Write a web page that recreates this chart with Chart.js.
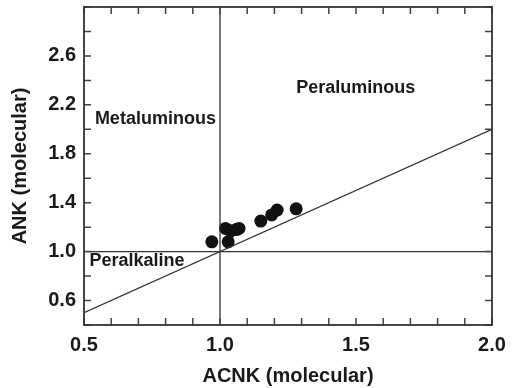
<!DOCTYPE html>
<html>
<head>
<meta charset="utf-8">
<script src="https://cdn.jsdelivr.net/npm/chart.js@4.4.1/dist/chart.umd.min.js"></script>
<style>
  html, body { margin: 0; padding: 0; background: #fff; }
  #wrap { width: 514px; height: 388px; }
</style>
</head>
<body>
<div id="wrap"><canvas id="chart" width="514" height="388"></canvas></div>
<script>
// ACNK vs ANK discrimination plot (molar ratios)
const acnk = [0.97, 1.03, 1.02, 1.04, 1.06, 1.07, 1.15, 1.19, 1.21, 1.28];
const ank  = [1.08, 1.08, 1.19, 1.17, 1.18, 1.19, 1.25, 1.30, 1.34, 1.35];

const xRange = [0.5, 2.0];
const yRange = [0.4, 3.0];
const xLabelTicks = [0.5, 1.0, 1.5, 2.0];
const yLabelTicks = [0.6, 1.0, 1.4, 1.8, 2.2, 2.6];

// field names and where they sit (data units, left edge / middle)
const fieldNames = ['Metaluminous', 'Peraluminous', 'Peralkaline'];
const fieldX = [0.54, 1.28, 0.52];
const fieldY = [2.08, 2.34, 0.92];

const points = acnk.map((v, i) => ({ x: v, y: ank[i] }));
const near = (a, list) => list.some(b => Math.abs(a - b) < 1e-6);

// frame plus inward ticks on all four sides
const frameTicks = {
  id: 'frameTicks',
  afterDatasetsDraw(chart) {
    const { ctx, chartArea: a, scales: { x, y } } = chart;
    const len = 7;
    ctx.save();
    ctx.strokeStyle = '#444';
    ctx.lineWidth = 1.5;
    ctx.beginPath();
    x.ticks.forEach(t => {
      const px = x.getPixelForValue(t.value);
      ctx.moveTo(px, a.bottom); ctx.lineTo(px, a.bottom - len);
      ctx.moveTo(px, a.top); ctx.lineTo(px, a.top + len);
    });
    y.ticks.forEach(t => {
      const py = y.getPixelForValue(t.value);
      ctx.moveTo(a.left, py); ctx.lineTo(a.left + len, py);
      ctx.moveTo(a.right, py); ctx.lineTo(a.right - len, py);
    });
    ctx.stroke();
    ctx.strokeStyle = '#333';
    ctx.lineWidth = 1.8;
    ctx.strokeRect(a.left, a.top, a.right - a.left, a.bottom - a.top);

    ctx.fillStyle = '#1a1a1a';
    ctx.font = 'bold 18px "Liberation Sans", Arial, sans-serif';
    ctx.textBaseline = 'middle';
    ctx.textAlign = 'left';
    fieldNames.forEach((n, i) => {
      ctx.fillText(n, x.getPixelForValue(fieldX[i]), y.getPixelForValue(fieldY[i]));
    });
    ctx.restore();
  }
};

const lineStyle = { showLine: true, pointRadius: 0, borderColor: '#333', borderWidth: 1.3, fill: false };
const tickFont = { family: '"Liberation Sans", Arial, sans-serif', size: 20, weight: 'bold' };
const titleFont = { family: '"Liberation Sans", Arial, sans-serif', size: 20, weight: 'bold' };

new Chart(document.getElementById('chart'), {
  type: 'scatter',
  data: {
    datasets: [
      { ...lineStyle, data: [{ x: 1, y: yRange[0] }, { x: 1, y: yRange[1] }] },
      { ...lineStyle, data: [{ x: xRange[0], y: 1 }, { x: xRange[1], y: 1 }] },
      { ...lineStyle, data: [{ x: xRange[0], y: xRange[0] }, { x: xRange[1], y: xRange[1] }] },
      {
        data: points,
        pointRadius: 6.5,
        pointBackgroundColor: '#111',
        pointBorderColor: '#111',
        pointBorderWidth: 0
      }
    ]
  },
  options: {
    responsive: false,
    animation: false,
    layout: { padding: { top: 7, right: 22, left: 0, bottom: 0 } },
    plugins: { legend: { display: false }, tooltip: { enabled: false } },
    scales: {
      x: {
        type: 'linear',
        min: xRange[0], max: xRange[1],
        grid: { display: false, drawTicks: false },
        border: { display: false },
        afterFit(s) { s.height = 63; s.paddingLeft = 0; s.paddingRight = 0; },
        ticks: {
          stepSize: 0.1,
          padding: 8,
          color: '#1a1a1a',
          autoSkip: false,
          maxRotation: 0,
          font: tickFont,
          callback: v => near(v, xLabelTicks) ? v.toFixed(1) : ''
        },
        title: {
          display: true,
          text: 'ACNK (molecular)',
          color: '#1a1a1a',
          padding: { top: 0, bottom: 0 },
          font: titleFont
        }
      },
      y: {
        type: 'linear',
        min: yRange[0], max: yRange[1],
        grid: { display: false, drawTicks: false },
        border: { display: false },
        afterFit(s) { s.width = 84; s.paddingTop = 0; s.paddingBottom = 0; },
        ticks: {
          stepSize: 0.2,
          padding: 8,
          color: '#1a1a1a',
          autoSkip: false,
          font: tickFont,
          callback: v => near(v, yLabelTicks) ? v.toFixed(1) : ''
        },
        title: {
          display: true,
          text: 'ANK (molecular)',
          color: '#1a1a1a',
          padding: { top: 8, bottom: 0 },
          font: titleFont
        }
      }
    }
  },
  plugins: [frameTicks]
});
</script>
</body>
</html>
